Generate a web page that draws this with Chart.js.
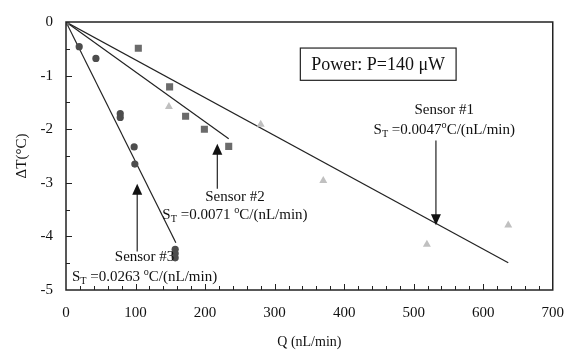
<!DOCTYPE html>
<html>
<head>
<meta charset="utf-8">
<script src="https://cdn.jsdelivr.net/npm/chart.js@4"></script>
<style>
  body { margin: 0; background: #fff; }
  #wrap { width: 578px; height: 357px; }
</style>
</head>
<body>
<div id="wrap">
  <canvas id="flowChart" width="578" height="357"></canvas>
</div>
<script>
// Sensor #1 (triangles), #2 (squares), #3 (circles)
const s1Q = [148, 280, 370, 519, 636];
const s1T = [-1.58, -1.91, -2.96, -4.15, -3.79];
const s2Q = [0, 104, 149, 172, 199, 234];
const s2T = [0, -0.49, -1.21, -1.76, -2.00, -2.32];
const s3Q = [19, 43, 78, 78, 98, 99, 157, 157, 157];
const s3T = [-0.46, -0.68, -1.71, -1.78, -2.33, -2.65, -4.24, -4.32, -4.40];

// fitted lines (end points)
const fit1Q = [0, 636], fit1T = [0, -4.49];
const fit2Q = [0, 234], fit2T = [0, -2.18];
const fit3Q = [0, 158], fit3T = [0, -4.12];

const xTicks = [0, 100, 200, 300, 400, 500, 600, 700];
const yTicks = [0, -1, -2, -3, -4, -5];

const SERIF = '"Liberation Serif", "Times New Roman", serif';

function pts(xs, ys) { return xs.map((x, i) => ({ x, y: ys[i] })); }

function fitLine(xs, ys) {
  return {
    data: pts(xs, ys), showLine: true, pointRadius: 0,
    borderColor: '#222', borderWidth: 1.2, fill: false, order: 5
  };
}

// text with sub/superscripts: parts = [[text, 'sub'|'sup'|undefined], ...]
function drawRich(ctx, parts, cx, cy, size) {
  const fontFor = k => (k ? size * 0.68 : size) + 'px ' + SERIF;
  let w = 0;
  parts.forEach(p => { ctx.font = fontFor(p[1]); w += ctx.measureText(p[0]).width; });
  let x = cx - w / 2;
  ctx.textBaseline = 'middle';
  ctx.textAlign = 'left';
  parts.forEach(p => {
    ctx.font = fontFor(p[1]);
    let dy = 0;
    if (p[1] === 'sub') dy = size * 0.32;
    if (p[1] === 'sup') dy = -size * 0.3;
    ctx.fillText(p[0], x, cy + dy);
    x += ctx.measureText(p[0]).width;
  });
}

function arrow(ctx, x, y0, y1) {
  // shaft from y0 to the tip at y1
  const dir = y1 > y0 ? 1 : -1;
  ctx.beginPath();
  ctx.moveTo(x, y0);
  ctx.lineTo(x, y1 - dir * 10);
  ctx.stroke();
  ctx.beginPath();
  ctx.moveTo(x, y1);
  ctx.lineTo(x - 5, y1 - dir * 11);
  ctx.lineTo(x + 5, y1 - dir * 11);
  ctx.closePath();
  ctx.fill();
}

const notes = [
  { name: 'Sensor #1', st: ' =0.0047', tx: 544, ty: -1.65, sy: -2.01, ax: 532, a0: -2.21, a1: -3.79 },
  { name: 'Sensor #2', st: ' =0.0071 ', tx: 243, ty: -3.26, sy: -3.60, ax: 217.6, a0: -3.11, a1: -2.27 },
  { name: 'Sensor #3', st: ' =0.0263 ', tx: 113, ty: -4.39, sy: -4.75, ax: 102.4, a0: -4.28, a1: -3.02 }
];

const decor = {
  id: 'decor',
  afterDatasetsDraw(chart) {
    const { ctx, chartArea: a, scales: { x, y } } = chart;
    ctx.save();
    ctx.strokeStyle = '#222';
    ctx.fillStyle = '#111';

    // frame
    ctx.lineWidth = 1.5;
    ctx.strokeRect(a.left, a.top, a.right - a.left, a.bottom - a.top);

    // inner minor ticks
    ctx.lineWidth = 1;
    ctx.beginPath();
    for (let q = 20; q < 700; q += 20) {
      const px = Math.round(x.getPixelForValue(q)) + 0.5;
      ctx.moveTo(px, a.bottom);
      ctx.lineTo(px, a.bottom - (q % 100 === 0 ? 6 : 4));
    }
    for (let t = -4.5; t < 0; t += 0.5) {
      const py = Math.round(y.getPixelForValue(t)) + 0.5;
      ctx.moveTo(a.left, py);
      ctx.lineTo(a.left + (Number.isInteger(t) ? 6 : 4), py);
    }
    ctx.stroke();

    // power box
    const bx0 = x.getPixelForValue(337), bx1 = x.getPixelForValue(561);
    const by0 = y.getPixelForValue(-0.486), by1 = y.getPixelForValue(-1.088);
    ctx.lineWidth = 1.2;
    ctx.strokeRect(bx0, by0, bx1 - bx0, by1 - by0);
    ctx.font = '18px ' + SERIF;
    ctx.textAlign = 'center';
    ctx.textBaseline = 'middle';
    ctx.fillText('Power: P=140 \u03bcW', (bx0 + bx1) / 2, (by0 + by1) / 2 + 1);

    // sensor notes
    notes.forEach(n => {
      const cx = x.getPixelForValue(n.tx);
      ctx.font = '15px ' + SERIF;
      ctx.textAlign = 'center';
      ctx.textBaseline = 'middle';
      ctx.fillText(n.name, cx, y.getPixelForValue(n.ty));
      drawRich(ctx, [['S'], ['T', 'sub'], [n.st], ['o', 'sup'], ['C/(nL/min)']],
        cx, y.getPixelForValue(n.sy), 15);
      ctx.lineWidth = 1.2;
      arrow(ctx, x.getPixelForValue(n.ax), y.getPixelForValue(n.a0), y.getPixelForValue(n.a1));
    });
    ctx.restore();
  }
};

new Chart(document.getElementById('flowChart'), {
  type: 'scatter',
  data: {
    datasets: [
      { data: pts(s3Q, s3T), pointStyle: 'circle', pointRadius: 3.6, backgroundColor: '#4d4d4d', borderWidth: 0, order: 1 },
      { data: pts(s2Q, s2T), pointStyle: 'rect', pointRadius: 5, backgroundColor: '#6b6b6b', borderWidth: 0, order: 2 },
      { data: pts(s1Q, s1T), pointStyle: 'triangle', pointRadius: 4.6, backgroundColor: '#c0c0c0', borderWidth: 0, order: 3 },
      fitLine(fit1Q, fit1T),
      fitLine(fit2Q, fit2T),
      fitLine(fit3Q, fit3T)
    ]
  },
  options: {
    responsive: false,
    animation: false,
    layout: { padding: { top: 12, right: 22, left: 0, bottom: 0 } },
    plugins: { legend: { display: false }, tooltip: { enabled: false } },
    scales: {
      x: {
        type: 'linear', min: 0, max: 700,
        afterBuildTicks: s => { s.ticks = xTicks.map(v => ({ value: v })); },
        afterFit: s => { s.height = 67; },
        grid: { display: false, drawTicks: false },
        border: { display: false },
        ticks: { padding: 14, color: '#111', font: { family: SERIF, size: 15 } },
        title: { display: true, text: 'Q (nL/min)', color: '#111', padding: { top: 0, bottom: 6 }, font: { family: SERIF, size: 14 } }
      },
      y: {
        type: 'linear', min: -5, max: 0,
        afterBuildTicks: s => { s.ticks = yTicks.map(v => ({ value: v })); },
        afterFit: s => { s.width = 66; },
        grid: { display: false, drawTicks: false },
        border: { display: false },
        ticks: { padding: 13, color: '#111', font: { family: SERIF, size: 15 } },
        title: { display: true, text: '\u0394T(\u00b0C)', color: '#111', padding: { top: 13, bottom: 0 }, font: { family: SERIF, size: 15 } }
      }
    }
  },
  plugins: [decor]
});
</script>
</body>
</html>
